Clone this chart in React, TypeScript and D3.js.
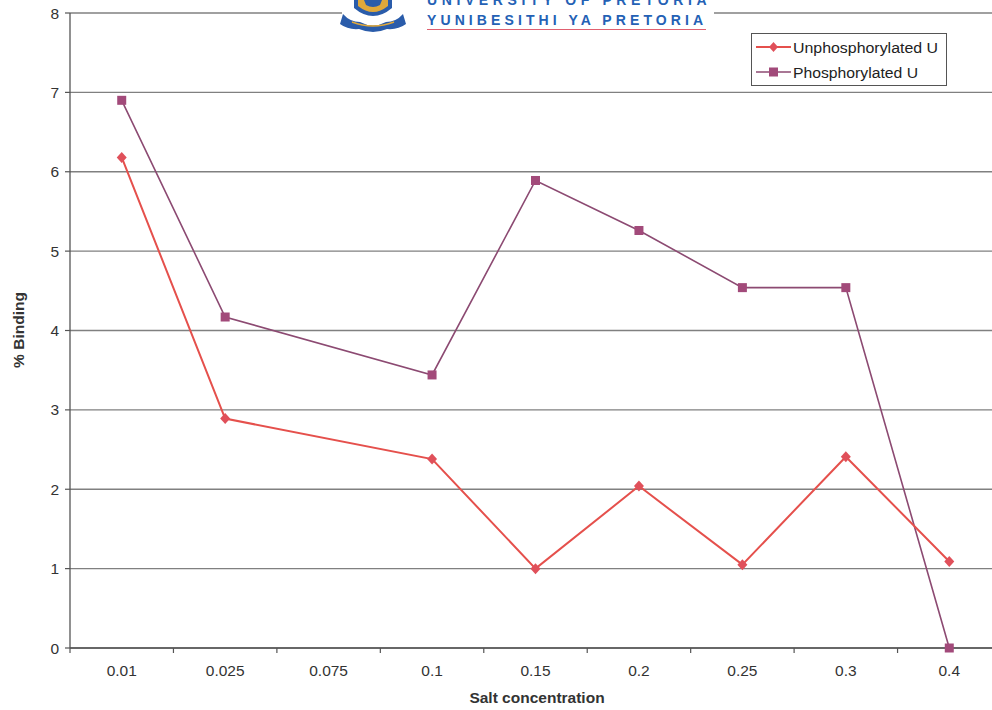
import React from "react";
import * as d3 from "d3";

const categories = ["0.01", "0.025", "0.075", "0.1", "0.15", "0.2", "0.25", "0.3", "0.4"];
const unphosphorylated: (number | null)[] = [6.18, 2.89, null, 2.38, 1.0, 2.04, 1.05, 2.41, 1.09];
const phosphorylated: (number | null)[] = [6.9, 4.17, null, 3.44, 5.89, 5.26, 4.54, 4.54, 0];
const yTicks = [0, 1, 2, 3, 4, 5, 6, 7, 8];

const W = 992;
const H = 710;
const FONT = "Arial, 'Liberation Sans', Helvetica, sans-serif";

export default function App() {
  const x = d3.scaleBand<string>().domain(categories).range([70, 1001]);
  const y = d3.scaleLinear().domain([0, 8]).range([648, 13]);
  const cx = (c: string) => (x(c) as number) + x.bandwidth() / 2;

  const pts = (vals: (number | null)[]) =>
    categories
      .map((c, i) => ({ c, v: vals[i] }))
      .filter((d) => d.v !== null) as { c: string; v: number }[];

  const line = d3
    .line<{ c: string; v: number }>()
    .x((d) => cx(d.c))
    .y((d) => y(d.v));

  const unPts = pts(unphosphorylated);
  const phPts = pts(phosphorylated);

  const redC = "#e5504c";
  const redM = "#e0505a";
  const purC = "#8c4a72";
  const purM = "#a24a7a";

  const x0 = 70;
  const x1 = 1001;

  return (
    <svg
      width={W}
      height={H}
      style={{ position: "absolute", left: 0, top: 0, background: "#fff" }}
      fontFamily={FONT}
    >
      <rect x={0} y={0} width={W} height={H} fill="#fff" />
      {/* gridlines */}
      {yTicks.map((t) => (
        <line key={t} x1={x0} x2={x1} y1={y(t)} y2={y(t)} stroke="#808080" strokeWidth={1.3} />
      ))}
      {/* y axis */}
      <line x1={x0} x2={x0} y1={y(8)} y2={y(0)} stroke="#555" strokeWidth={1.3} />
      {yTicks.map((t) => (
        <g key={"yt" + t}>
          <line x1={x0 - 5} x2={x0} y1={y(t)} y2={y(t)} stroke="#555" strokeWidth={1.2} />
          <text x={59} y={y(t) + 5.5} textAnchor="end" fontSize={15.5} fill="#333">
            {t}
          </text>
        </g>
      ))}
      {/* x axis */}
      <line x1={x0} x2={x1} y1={y(0)} y2={y(0)} stroke="#555" strokeWidth={1.3} />
      {categories.map((c) => (
        <g key={"xt" + c}>
          <line
            x1={x(c) as number}
            x2={x(c) as number}
            y1={y(0)}
            y2={y(0) + 5}
            stroke="#555"
            strokeWidth={1.2}
          />
          <text x={cx(c)} y={676} textAnchor="middle" fontSize={15.5} fill="#333">
            {c}
          </text>
        </g>
      ))}
      {/* axis titles */}
      <text x={537} y={703} textAnchor="middle" fontSize={15.5} fontWeight="bold" fill="#333">
        Salt concentration
      </text>
      <text
        transform="translate(24,330) rotate(-90)"
        textAnchor="middle"
        fontSize={15.5}
        fontWeight="bold"
        fill="#333"
      >
        % Binding
      </text>

      {/* series */}
      <path d={line(phPts) || ""} fill="none" stroke={purC} strokeWidth={1.6} />
      <path d={line(unPts) || ""} fill="none" stroke={redC} strokeWidth={2} />
      {phPts.map((d) => (
        <rect
          key={"p" + d.c}
          x={cx(d.c) - 4.5}
          y={y(d.v) - 4.5}
          width={9}
          height={9}
          fill={purM}
        />
      ))}
      {unPts.map((d) => (
        <path
          key={"u" + d.c}
          d={`M${cx(d.c)},${y(d.v) - 5.5}L${cx(d.c) + 5},${y(d.v)}L${cx(d.c)},${y(d.v) + 5.5}L${cx(d.c) - 5},${y(d.v)}Z`}
          fill={redM}
        />
      ))}

      {/* legend */}
      <rect x={751.5} y={33.5} width={195} height={52} fill="#fff" stroke="#555" strokeWidth={1} />
      <line x1={756} x2={791} y1={47} y2={47} stroke={redC} strokeWidth={2} />
      <path d="M773.5,42L778,47L773.5,52L769,47Z" fill={redM} />
      <text x={793} y={52.5} fontSize={15.5} fill="#222" textLength={145} lengthAdjust="spacingAndGlyphs">
        Unphosphorylated U
      </text>
      <line x1={756} x2={791} y1={72} y2={72} stroke={purC} strokeWidth={1.6} />
      <rect x={769} y={67.5} width={9} height={9} fill={purM} />
      <text x={793} y={77.5} fontSize={15.5} fill="#222" textLength={125} lengthAdjust="spacingAndGlyphs">
        Phosphorylated U
      </text>

      {/* logo */}
      <rect x={342} y={0} width={372} height={34} fill="#fff" />
      <g>
        <path d="M354,0 L392,0 L392,8 Q373,24 354,8 Z" fill="#2a5caa" />
        <path d="M358,0 L388,0 L388,6 Q373,18 358,6 Z" fill="#e0a83a" />
        <path d="M364,0 L382,0 L380,5 Q373,9 366,5 Z" fill="#2a5caa" />
        <path
          d="M343,14 Q350,22 360,22 Q373,29 386,22 Q396,22 403,14 L406,24 Q398,30 387,29 Q373,35 359,29 Q348,30 340,24 Z"
          fill="#2a5caa"
        />
        <path d="M352,22 Q373,30 394,22" fill="none" stroke="#e0a83a" strokeWidth={1.6} />
      </g>
      <text
        x={427}
        y={5}
        fontSize={14}
        fontWeight="bold"
        fill="#2461b5"
        letterSpacing={4.6}
      >
        UNIVERSITY OF PRETORIA
      </text>
      <text
        x={427}
        y={25}
        fontSize={14}
        fontWeight="bold"
        fill="#2461b5"
        letterSpacing={4.1}
      >
        YUNIBESITHI YA PRETORIA
      </text>
      <line x1={427} x2={706} y1={29.5} y2={29.5} stroke="#e06070" strokeWidth={1.2} />
    </svg>
  );
}
